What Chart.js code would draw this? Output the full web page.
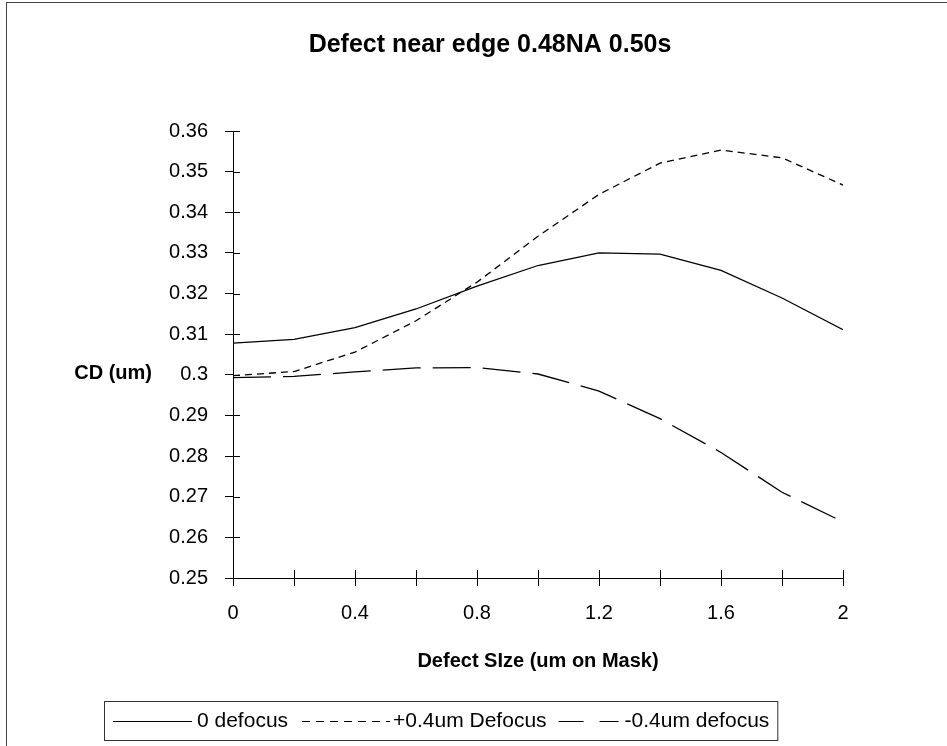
<!DOCTYPE html>
<html lang="en">

<head>
    <meta charset="UTF-8">
    <title>Defect near edge 0.48NA 0.50s</title>
    <style>
        html, body {
            margin: 0;
            padding: 0;
            background: #fff;
            overflow: hidden;
        }

        #wrap {
            position: relative;
            width: 947px;
            height: 746px;
        }

        #frame {
            position: absolute;
            left: 6px;
            top: 2px;
            width: 1000px;
            height: 800px;
            border: 1px solid #444;
        }

        #myChart {
            position: absolute;
            left: 0;
            top: 0;
        }
    </style>
</head>

<body>
    <div id="wrap">
        <div id="frame"></div>
        <canvas id="myChart" width="947" height="746"></canvas>
    </div>

    <script src="https://cdn.jsdelivr.net/npm/chart.js"></script>

    <script>
        // defect size on mask (um)
        var sizes = [0, 0.2, 0.4, 0.6, 0.8, 1.0, 1.2, 1.4, 1.6, 1.8, 2.0];
        // CD values (um)
        var cdZero = [0.3078, 0.3087, 0.3116, 0.3162, 0.3218, 0.3269, 0.3300, 0.3297, 0.3257, 0.3189, 0.3111];
        var cdPlus = [0.2998, 0.3008, 0.3056, 0.3133, 0.3228, 0.3341, 0.3444, 0.3521, 0.3553, 0.3534, 0.3467];
        var cdMinus = [0.2993, 0.2996, 0.3007, 0.3017, 0.3018, 0.3002, 0.2960, 0.2892, 0.2809, 0.2711, 0.2638];

        var seriesNames = ['0 defocus', '+0.4um Defocus', '-0.4um defocus'];
        var xTickLabels = ['0', '0.4', '0.8', '1.2', '1.6', '2'];

        var FONT = "'Liberation Sans', Arial, sans-serif";
        var dashes = [[], [7, 5], [38, 12]];
        var legendDashes = [[], [8, 6], [25, 16]];

        function toPoints(ys) {
            return sizes.map(function (x, i) { return { x: x, y: ys[i] }; });
        }

        // short tick marks on the inside of both axes + y title + boxed legend
        var decorations = {
            id: 'decorations',
            afterDraw: function (chart) {
                var c = chart.ctx;
                var xs = chart.scales.x, ys = chart.scales.y;
                var area = chart.chartArea;

                c.save();
                c.strokeStyle = '#000';
                c.lineWidth = 1;
                c.beginPath();
                ys.ticks.forEach(function (t) {
                    var py = Math.round(ys.getPixelForValue(t.value)) + 0.5;
                    c.moveTo(area.left, py);
                    c.lineTo(area.left + 7, py);
                });
                xs.ticks.forEach(function (t) {
                    var px = Math.round(xs.getPixelForValue(t.value)) + 0.5;
                    c.moveTo(px, area.bottom);
                    c.lineTo(px, area.bottom - 8);
                });
                c.stroke();

                // y axis title, horizontal
                c.fillStyle = '#000';
                c.font = 'bold 20px ' + FONT;
                c.textAlign = 'right';
                c.textBaseline = 'middle';
                c.fillText('CD (um)', 152, 373);

                // legend
                c.font = '21px ' + FONT;
                c.textAlign = 'left';
                var ly = 721;
                var samples = [79, 88, 60];
                var before = [9, 14, 12];
                var after = [5, 3, 6];
                var x = 104;
                chart.data.datasets.forEach(function (ds, i) {
                    x += before[i];
                    c.beginPath();
                    c.setLineDash(legendDashes[i]);
                    c.lineWidth = 1.2;
                    c.moveTo(x, ly + 0.5);
                    c.lineTo(x + samples[i], ly + 0.5);
                    c.stroke();
                    x += samples[i] + after[i];
                    c.setLineDash([]);
                    c.fillText(ds.label, x, ly);
                    x += c.measureText(ds.label).width;
                });
                c.lineWidth = 1;
                c.strokeStyle = '#333';
                c.strokeRect(104.5, 701.5, x + 8 - 104, 39);
                c.restore();
            }
        };

        var ctx = document.getElementById('myChart');

        var myChart = new Chart(ctx, {
            type: 'line',
            data: {
                datasets: [cdZero, cdPlus, cdMinus].map(function (ys, i) {
                    return {
                        label: seriesNames[i],
                        data: toPoints(ys),
                        borderColor: '#000',
                        borderWidth: 1.3,
                        borderDash: dashes[i],
                        pointRadius: 0,
                        fill: false,
                        tension: 0
                    };
                })
            },
            options: {
                responsive: false,
                animation: false,
                devicePixelRatio: 1,
                layout: {
                    padding: { left: 137, right: 104, top: 0, bottom: 73 }
                },
                plugins: {
                    legend: { display: false },
                    tooltip: { enabled: false },
                    title: {
                        display: true,
                        text: 'Defect near edge 0.48NA 0.50s',
                        color: '#000',
                        font: { family: FONT, size: 25, weight: 'bold' },
                        padding: { top: 30, bottom: 71 }
                    }
                },
                scales: {
                    x: {
                        type: 'linear',
                        min: 0,
                        max: 2,
                        afterFit: function (scale) { scale.height = 95; },
                        ticks: {
                            stepSize: 0.2,
                            color: '#000',
                            padding: 15,
                            maxRotation: 0,
                            autoSkip: false,
                            font: { family: FONT, size: 20 },
                            callback: function (v) {
                                var k = Math.round(v * 10);
                                return k % 4 === 0 ? xTickLabels[k / 4] : '';
                            }
                        },
                        grid: {
                            drawOnChartArea: false,
                            tickLength: 8,
                            color: '#000'
                        },
                        border: { color: '#000', width: 1 },
                        title: {
                            display: true,
                            text: 'Defect SIze (um on Mask)',
                            color: '#000',
                            padding: 0,
                            font: { family: FONT, size: 20, weight: 'bold' }
                        }
                    },
                    y: {
                        min: 0.25,
                        max: 0.36,
                        afterFit: function (scale) { scale.width = 96; },
                        ticks: {
                            stepSize: 0.01,
                            color: '#000',
                            padding: 17,
                            font: { family: FONT, size: 20 },
                            callback: function (v) { return String(parseFloat(v.toFixed(2))); }
                        },
                        grid: {
                            drawOnChartArea: false,
                            tickLength: 8,
                            color: '#000'
                        },
                        border: { color: '#000', width: 1 }
                    }
                }
            },
            plugins: [decorations]
        });
    </script>

</body>

</html>
